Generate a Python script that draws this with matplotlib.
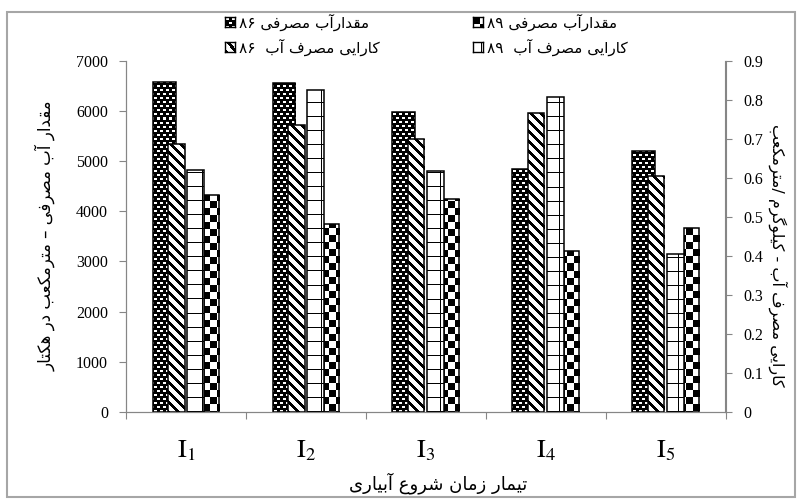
import re
import numpy as np
import matplotlib.pyplot as plt
from matplotlib.patches import Rectangle

plt.rcParams['font.family'] = 'serif'
plt.rcParams['font.serif'] = ['Liberation Serif', 'DejaVu Serif']
plt.rcParams['mathtext.fontset'] = 'stix'

# داده‌ها
categories = [r'$\mathrm{I}_{1}$', r'$\mathrm{I}_{2}$', r'$\mathrm{I}_{3}$',
              r'$\mathrm{I}_{4}$', r'$\mathrm{I}_{5}$']
water86 = [6570, 6560, 5980, 4840, 5200]      # مقدارآب مصرفی ۸۶
water89 = [4320, 3750, 4240, 3200, 3670]      # مقدارآب مصرفی ۸۹
wue86 = [0.686, 0.735, 0.699, 0.767, 0.605]   # کارایی مصرف آب ۸۶
wue89 = [0.620, 0.825, 0.618, 0.806, 0.404]   # کارایی مصرف آب ۸۹

left_ticks = [0, 1000, 2000, 3000, 4000, 5000, 6000, 7000]
right_ticks = [0, 0.1, 0.2, 0.3, 0.4, 0.5, 0.6, 0.7, 0.8, 0.9]

lbl_w86 = 'مقدارآب مصرفی ۸۶'
lbl_w89 = 'مقدارآب مصرفی ۸۹'
lbl_e86 = 'کارایی مصرف آب  ۸۶'
lbl_e89 = 'کارایی مصرف آب  ۸۹'
ylabel_left = 'مقدار آب مصرفی – مترمکعب در هکتار'
ylabel_right = 'کارایی مصرف آب - کیلوگرم /مترمکعب'
xlabel = 'تیمار زمان شروع آبیاری'

# شکل‌دهی حروف فارسی (matplotlib خودش حروف را به هم نمی‌چسباند)
FORMS = {
    'ا': ('\uFE8D', '\uFE8E', None, None),
    'آ': ('\uFE81', '\uFE82', None, None),
    'ب': ('\uFE8F', '\uFE90', '\uFE91', '\uFE92'),
    'ت': ('\uFE95', '\uFE96', '\uFE97', '\uFE98'),
    'د': ('\uFEA9', '\uFEAA', None, None),
    'ر': ('\uFEAD', '\uFEAE', None, None),
    'ز': ('\uFEAF', '\uFEB0', None, None),
    'ش': ('\uFEB5', '\uFEB6', '\uFEB7', '\uFEB8'),
    'ص': ('\uFEB9', '\uFEBA', '\uFEBB', '\uFEBC'),
    'ع': ('\uFEC9', '\uFECA', '\uFECB', '\uFECC'),
    'ف': ('\uFED1', '\uFED2', '\uFED3', '\uFED4'),
    'ق': ('\uFED5', '\uFED6', '\uFED7', '\uFED8'),
    'ل': ('\uFEDD', '\uFEDE', '\uFEDF', '\uFEE0'),
    'م': ('\uFEE1', '\uFEE2', '\uFEE3', '\uFEE4'),
    'ن': ('\uFEE5', '\uFEE6', '\uFEE7', '\uFEE8'),
    'ه': ('\uFEE9', '\uFEEA', '\uFEEB', '\uFEEC'),
    'و': ('\uFEED', '\uFEEE', None, None),
    'ی': ('\uFBFC', '\uFBFD', '\uFBFE', '\uFBFF'),
    'ک': ('\uFB8E', '\uFB8F', '\uFB90', '\uFB91'),
    'گ': ('\uFB92', '\uFB93', '\uFB94', '\uFB95'),
}


def fa(text):
    out = []
    for i, ch in enumerate(text):
        if ch not in FORMS:
            out.append(ch)
            continue
        prev = text[i - 1] if i > 0 else ''
        nxt = text[i + 1] if i + 1 < len(text) else ''
        jp = prev in FORMS and FORMS[prev][2] is not None
        jn = nxt in FORMS and FORMS[ch][2] is not None
        iso, fin, ini, med = FORMS[ch]
        if jp and jn:
            out.append(med)
        elif jp:
            out.append(fin)
        elif jn:
            out.append(ini)
        else:
            out.append(iso)
    s = ''.join(out)[::-1]
    return re.sub(r'[0-9\u06F0-\u06F9]+', lambda m: m.group(0)[::-1], s)


def pattern(kind, h, w):
    y, x = np.indices((h, w))
    if kind == 'dots':
        r, c = y % 8, x % 6
        white = ((r >= 1) & (r < 3) & (c >= 1) & (c < 4)) | \
                ((r >= 5) & (r < 7) & ((c + 3) % 6 >= 1) & ((c + 3) % 6 < 4))
    elif kind == 'diag':
        white = (x - y) % 10 >= 4
    elif kind == 'grid':
        white = ~((y % 14 == 0) | (x % 17 == 8))
    else:
        white = ((x // 7) + (y // 7)) % 2 == 1
    return white.astype(float)


W, H = 802, 504
fig = plt.figure(figsize=(W / 100, H / 100), dpi=100)
ax = fig.add_axes([126 / W, 1 - 412 / H, 599.5 / W, 351.3 / H])
ax2 = ax.twinx()

x = np.arange(len(categories))
ymax_l, ymax_r = 7000, 0.9
pw, ph = 600, 351


def draw_series(a, vals, off, width, kind, top):
    xs = x + off
    bars = a.bar(xs, vals, width, color='white', edgecolor='none', zorder=2)
    img = pattern(kind, ph, pw)
    for b in bars:
        im = a.imshow(img, cmap='gray', vmin=0, vmax=1, aspect='auto',
                      extent=(-0.5, 4.5, 0, top), interpolation='nearest',
                      zorder=2.1)
        im.set_clip_path(b)
    a.bar(xs, vals, width, fill=False, edgecolor='black', linewidth=1.1,
          zorder=2.2)


draw_series(ax, water86, -0.1825, 0.191, 'dots', ymax_l)
draw_series(ax, water89, 0.215, 0.126, 'checker', ymax_l)
draw_series(ax2, wue86, -0.079, 0.136, 'diag', ymax_r)
draw_series(ax2, wue89, 0.082, 0.14, 'grid', ymax_r)

for a in (ax, ax2):
    a.set_xlim(-0.5, 4.5)
    for s in a.spines.values():
        s.set_color('#868686')
    a.spines['top'].set_visible(False)
ax.set_ylim(0, ymax_l)
ax2.set_ylim(0, ymax_r)

ax.set_yticks(left_ticks)
ax.set_yticklabels([str(t) for t in left_ticks])
ax2.set_yticks(right_ticks)
ax2.set_yticklabels(['0'] + ['%.1f' % t for t in right_ticks[1:]])
ax.set_xticks(np.arange(-0.5, 5, 1))
ax.set_xticklabels([])
ax.set_xticks(x, minor=True)
ax.set_xticklabels(categories, minor=True, fontsize=19)
ax.tick_params(axis='x', which='minor', length=0, pad=19)
ax.tick_params(axis='x', which='major', length=5, color='#868686')
ax.tick_params(axis='y', length=5, color='#868686', labelsize=11.5, pad=8)
ax2.tick_params(axis='y', length=5, color='#868686', labelsize=11.5, pad=8)

fig.text(438 / W, 1 - 483 / H, fa(xlabel), family='DejaVu Sans', fontsize=13,
         ha='center', va='center')
fig.text(45 / W, 1 - 236 / H, fa(ylabel_left), family='DejaVu Sans',
         fontsize=12, rotation=90, ha='center', va='center')
fig.text(778 / W, 1 - 255 / H, fa(ylabel_right), family='DejaVu Sans',
         fontsize=11.5, rotation=270, ha='center', va='center')

# راهنما
entries = [(lbl_w86, 'dots', 225, 22), (lbl_e86, 'diag', 225, 47),
           (lbl_w89, 'checker', 473, 22), (lbl_e89, 'grid', 473, 47)]
for label, kind, lx, ly in entries:
    ia = fig.add_axes([lx / W, 1 - (ly + 5) / H, 10 / W, 10 / H])
    ia.imshow(pattern(kind, 10, 10), cmap='gray', vmin=0, vmax=1,
              interpolation='nearest', aspect='auto')
    ia.set_xticks([])
    ia.set_yticks([])
    for s in ia.spines.values():
        s.set_linewidth(1)
    fig.text((lx + 14) / W, 1 - ly / H, fa(label), family='DejaVu Sans',
             fontsize=11, ha='left', va='center')

fig.patches.append(Rectangle((7 / W, 1 - 497 / H), 788 / W, 485 / H,
                             transform=fig.transFigure, fill=False,
                             edgecolor='#a6a6a6', linewidth=1.5))

fig.savefig('out.png', dpi=100)
